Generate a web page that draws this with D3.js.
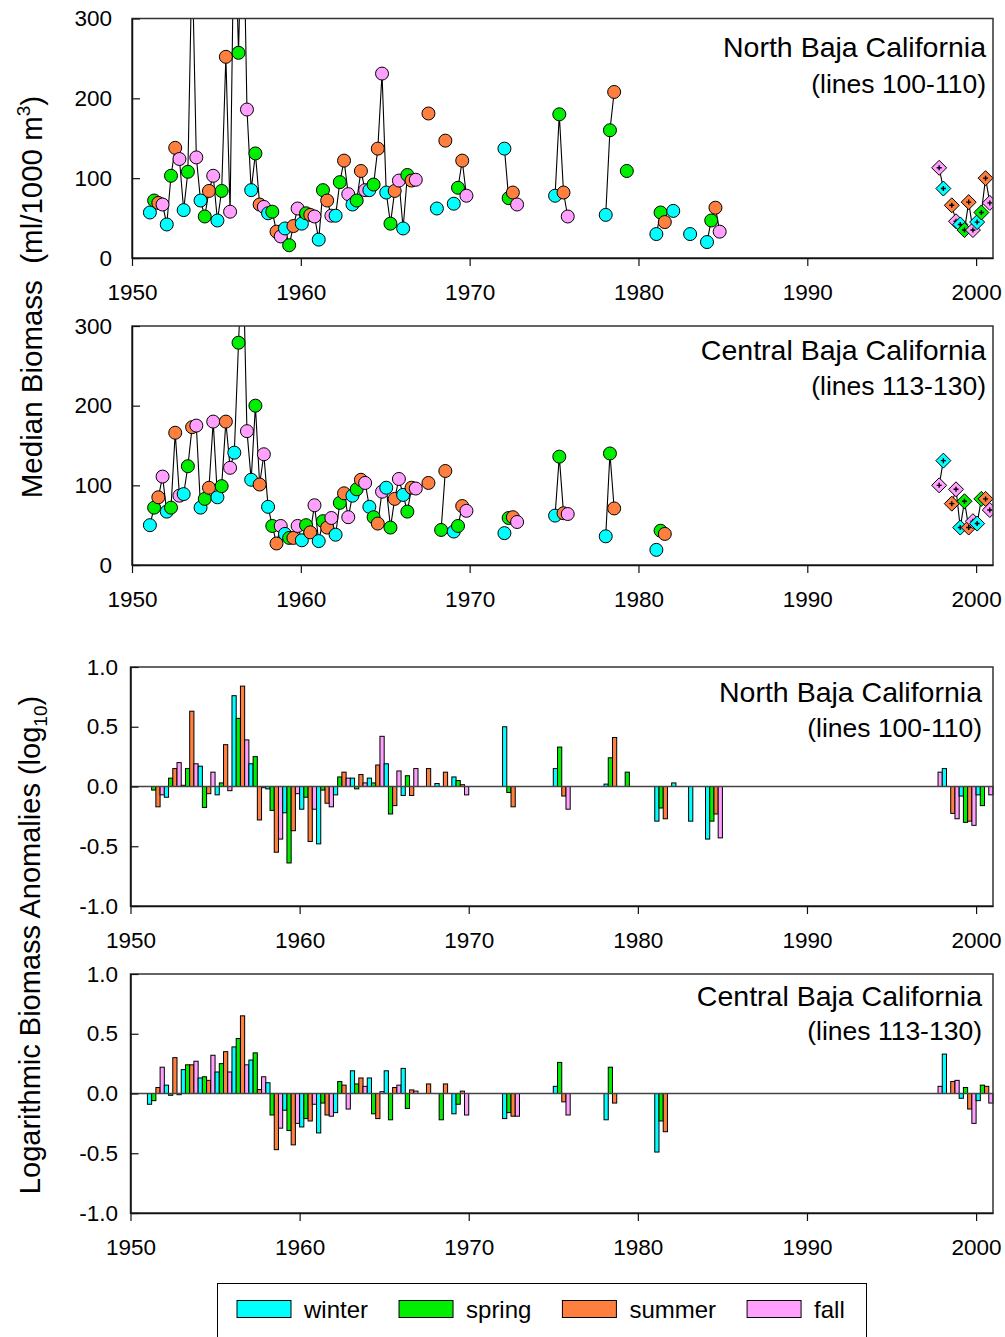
<!DOCTYPE html>
<html><head><meta charset="utf-8">
<script src="https://cdn.jsdelivr.net/npm/d3@7"></script>
<style>
body{margin:0;background:#fff}
svg{display:block}
text{font-family:Arial,"Liberation Sans",sans-serif;fill:#000}
</style>
</head><body>
<svg id="chart" width="1005" height="1337"></svg>
<script>
// ---------------- DATA ----------------
const seasonNames = ["winter", "spring", "summer", "fall"];
const seasonColors = ["#00FFFF", "#00EE00", "#FF7F3F", "#FFA0FF"];
const yearTicks = [1950, 1960, 1970, 1980, 1990, 2000];
const biomassTicks = [0, 100, 200, 300];
const anomalyTicks = [-1.0, -0.5, 0.0, 0.5, 1.0];

// biomass points: [year, seasonIndex, value]; null breaks the connecting line
const northBiomass = [
  [1951,0,57],[1951,1,72],[1951,2,69],[1951,3,67],
  [1952,0,42],[1952,1,103],[1952,2,138],[1952,3,124],
  [1953,0,60],[1953,1,108],[1953,2,380],[1953,3,126],
  [1954,0,72],[1954,1,52],[1954,2,84],[1954,3,103],
  [1955,0,47],[1955,1,84],[1955,2,252],[1955,3,58],
  [1956,0,450],[1956,1,257],[1956,2,480],[1956,3,186],
  [1957,0,85],[1957,1,131],[1957,2,67],[1957,3,64],
  [1958,0,56],[1958,1,58],[1958,2,33],[1958,3,27],
  [1959,0,37],[1959,1,16],[1959,2,40],[1959,3,62],
  [1960,0,43],[1960,1,56],[1960,2,54],[1960,3,52],
  [1961,0,23],[1961,1,85],[1961,2,72],[1961,3,53],
  [1962,0,53],[1962,1,95],[1962,2,122],[1962,3,80],
  [1963,0,67],[1963,1,72],[1963,2,109],[1963,3,85],
  [1964,0,85],[1964,1,92],[1964,2,137],[1964,3,231],
  [1965,0,82],[1965,1,43],[1965,2,84],[1965,3,97],
  [1966,0,37],[1966,1,104],[1966,2,97],[1966,3,98],
  null,[1967,2,181],
  null,[1968,0,62],
  null,[1968,2,147],
  null,[1969,0,68],
  null,[1969,1,88],[1969,2,122],[1969,3,78],
  null,[1972,0,137],[1972,1,75],[1972,2,82],[1972,3,67],
  null,[1975,0,78],[1975,1,180],[1975,2,82],[1975,3,52],
  null,[1978,0,54],[1978,1,160],[1978,2,208],
  null,[1979,1,109],
  null,[1981,0,30],[1981,1,57],[1981,2,45],
  null,[1982,0,59],
  null,[1983,0,30],
  null,[1984,0,20],[1984,1,47],[1984,2,63],[1984,3,33]
];
const northRecent = [
  [1997,3,113],[1998,0,87],
  null,[1998,2,66],[1998,3,46],
  [1999,0,42],[1999,1,35],[1999,2,70],[1999,3,35],
  [2000,0,45],[2000,1,57],[2000,2,100],[2000,3,69]
];
const centralBiomass = [
  [1951,0,50],[1951,1,72],[1951,2,85],[1951,3,111],
  [1952,0,67],[1952,1,72],[1952,2,166],[1952,3,87],
  [1953,0,89],[1953,1,124],[1953,2,173],[1953,3,175],
  [1954,0,72],[1954,1,83],[1954,2,97],[1954,3,180],
  [1955,0,85],[1955,1,99],[1955,2,180],[1955,3,122],
  [1956,0,141],[1956,1,279],[1956,2,400],[1956,3,168],
  [1957,0,107],[1957,1,200],[1957,2,101],[1957,3,139],
  [1958,0,73],[1958,1,49],[1958,2,27],[1958,3,49],
  [1959,0,39],[1959,1,34],[1959,2,34],[1959,3,49],
  [1960,0,31],[1960,1,50],[1960,2,41],[1960,3,75],
  [1961,0,30],[1961,1,55],[1961,2,47],[1961,3,59],
  [1962,0,38],[1962,1,78],[1962,2,90],[1962,3,60],
  [1963,0,87],[1963,1,95],[1963,2,107],[1963,3,103],
  [1964,0,73],[1964,1,60],[1964,2,52],[1964,3,92],
  [1965,0,97],[1965,1,47],[1965,2,83],[1965,3,108],
  [1966,0,88],[1966,1,67],[1966,2,97],[1966,3,96],
  null,[1967,2,103],
  null,[1968,1,44],[1968,2,118],
  null,[1969,0,42],
  null,[1969,1,49],[1969,2,74],[1969,3,68],
  null,[1972,0,40],
  null,[1972,1,59],[1972,2,60],[1972,3,54],
  null,[1975,0,62],[1975,1,136],[1975,2,65],[1975,3,64],
  null,[1978,0,36],[1978,1,140],[1978,2,71],
  null,[1981,0,19],
  null,[1981,1,43],[1981,2,39]
];
const centralRecent = [
  [1997,3,100],[1998,0,131],
  null,[1998,2,77],[1998,3,95],
  [1999,0,47],[1999,1,80],[1999,2,47],[1999,3,55],
  [2000,0,52],[2000,1,83],[2000,2,83],[2000,3,69]
];

// log10 anomalies: [year, seasonIndex, value]
const northAnomaly = [
  [1951,1,-0.03],[1951,2,-0.17],[1951,3,-0.07],
  [1952,0,-0.09],[1952,1,0.07],[1952,2,0.15],[1952,3,0.20],
  [1953,0,0.01],[1953,1,0.15],[1953,2,0.63],[1953,3,0.19],
  [1954,0,0.17],[1954,1,-0.175],[1954,2,-0.06],[1954,3,0.12],
  [1955,0,-0.07],[1955,1,0.03],[1955,2,0.35],[1955,3,-0.035],
  [1956,0,0.76],[1956,1,0.57],[1956,2,0.84],[1956,3,0.39],
  [1957,0,0.19],[1957,1,0.25],[1957,2,-0.28],[1957,3,-0.01],
  [1958,0,-0.02],[1958,1,-0.20],[1958,2,-0.55],[1958,3,-0.44],
  [1959,0,-0.22],[1959,1,-0.64],[1959,2,-0.37],[1959,3,-0.06],
  [1960,0,-0.19],[1960,1,-0.09],[1960,2,-0.46],[1960,3,-0.19],
  [1961,0,-0.48],[1961,1,-0.03],[1961,2,-0.14],[1961,3,-0.17],
  [1962,0,-0.07],[1962,1,0.08],[1962,2,0.12],[1962,3,0.07],
  [1963,0,0.07],[1963,1,-0.02],[1963,2,0.10],[1963,3,0.03],
  [1964,0,0.07],[1964,1,0.03],[1964,2,0.18],[1964,3,0.42],
  [1965,0,0.19],[1965,1,-0.23],[1965,2,-0.16],[1965,3,0.13],
  [1966,0,-0.075],[1966,1,0.09],[1966,2,-0.075],[1966,3,0.15],
  [1967,2,0.15],
  [1968,0,0.025],[1968,2,0.12],
  [1969,0,0.08],[1969,1,0.05],[1969,2,0.015],[1969,3,-0.07],
  [1972,0,0.50],[1972,1,-0.05],[1972,2,-0.17],
  [1975,0,0.15],[1975,1,0.33],[1975,2,-0.08],[1975,3,-0.19],
  [1978,0,0.02],[1978,1,0.24],[1978,2,0.41],
  [1979,1,0.12],
  [1981,0,-0.29],[1981,1,-0.18],[1981,2,-0.27],
  [1982,0,0.03],
  [1983,0,-0.29],
  [1984,0,-0.44],[1984,1,-0.29],[1984,2,-0.23],[1984,3,-0.43],
  [1997,3,0.12],
  [1998,0,0.15],[1998,2,-0.225],[1998,3,-0.27],
  [1999,0,-0.08],[1999,1,-0.30],[1999,2,-0.29],[1999,3,-0.325],
  [2000,0,-0.07],[2000,1,-0.16],[2000,3,-0.07]
];
const centralAnomaly = [
  [1951,0,-0.09],[1951,1,-0.06],[1951,2,0.05],[1951,3,0.22],
  [1952,0,0.07],[1952,1,-0.015],[1952,2,0.30],[1952,3,-0.01],
  [1953,0,0.20],[1953,1,0.24],[1953,2,0.24],[1953,3,0.27],
  [1954,0,0.13],[1954,1,0.14],[1954,2,0.11],[1954,3,0.32],
  [1955,0,0.18],[1955,1,0.25],[1955,2,0.35],[1955,3,0.18],
  [1956,0,0.39],[1956,1,0.46],[1956,2,0.65],[1956,3,0.24],
  [1957,0,0.28],[1957,1,0.34],[1957,2,0.033],[1957,3,0.14],
  [1958,0,0.09],[1958,1,-0.18],[1958,2,-0.47],[1958,3,-0.29],
  [1959,0,-0.14],[1959,1,-0.31],[1959,2,-0.43],[1959,3,-0.25],
  [1960,0,-0.28],[1960,1,-0.21],[1960,2,-0.23],[1960,3,-0.09],
  [1961,0,-0.33],[1961,1,-0.08],[1961,2,-0.18],[1961,3,-0.19],
  [1962,0,-0.16],[1962,1,0.10],[1962,2,0.07],[1962,3,-0.13],
  [1963,0,0.19],[1963,1,0.08],[1963,2,0.13],[1963,3,0.06],
  [1964,0,0.13],[1964,1,-0.17],[1964,2,-0.21],[1964,3,0.015],
  [1965,0,0.19],[1965,1,-0.22],[1965,2,0.05],[1965,3,0.07],
  [1966,0,0.21],[1966,1,-0.125],[1966,2,0.03],[1966,3,0.02],
  [1967,2,0.08],
  [1968,1,-0.22],[1968,2,0.08],
  [1969,0,-0.17],[1969,1,-0.09],[1969,2,0.02],[1969,3,-0.18],
  [1972,0,-0.21],[1972,1,-0.16],[1972,2,-0.19],[1972,3,-0.19],
  [1975,0,0.06],[1975,1,0.26],[1975,2,-0.07],[1975,3,-0.18],
  [1978,0,-0.22],[1978,1,0.22],[1978,2,-0.08],
  [1981,0,-0.49],[1981,1,-0.23],[1981,2,-0.32],
  [1997,3,0.06],
  [1998,0,0.33],[1998,2,0.10],[1998,3,0.11],
  [1999,0,-0.04],[1999,1,0.05],[1999,2,-0.13],[1999,3,-0.25],
  [2000,0,-0.06],[2000,1,0.07],[2000,2,0.06],[2000,3,-0.08]
];

const northTitle = ["North Baja California", "(lines 100-110)"];
const centralTitle = ["Central Baja California", "(lines 113-130)"];

// ---------------- DRAWING ----------------
const svg = d3.select("#chart");
const FONT = "Arial, 'Liberation Sans', sans-serif";
const xDomain = [1950, 2001];
const pointOffset = 0.06;
const hyphenFmt = d => d3.format(".1f")(d).replace("\u2212", "-");

function frameAndAxes(g, x, y, cfg, yTicks, yFmt, yPad) {
  g.append("rect").attr("x", cfg.left).attr("y", cfg.top)
    .attr("width", cfg.right - cfg.left).attr("height", cfg.bottom - cfg.top)
    .attr("fill", "none").attr("stroke", "#333").attr("stroke-width", 1.5);
  const xa = g.append("g").attr("transform", `translate(0,${cfg.bottom})`)
    .call(d3.axisBottom(x).tickValues(yearTicks).tickFormat(d3.format("d"))
      .tickSize(8).tickSizeOuter(0).tickPadding(18.5));
  const ya = g.append("g").attr("transform", `translate(${cfg.left},0)`)
    .call(d3.axisLeft(y).tickValues(yTicks).tickFormat(yFmt)
      .tickSize(-8).tickSizeOuter(0).tickPadding(yPad));
  [xa, ya].forEach(a => {
    a.attr("font-size", null).attr("font-family", null);
    a.selectAll("path.domain").attr("stroke", "#111").attr("stroke-width", 1.5);
    a.selectAll(".tick line").attr("stroke", "#111").attr("stroke-width", 1.2);
    a.selectAll(".tick text").style("font-size", "22.5px").style("font-family", FONT);
  });
}

function titles(g, lines, xr, y1, y2) {
  g.append("text").attr("x", xr).attr("y", y1).attr("text-anchor", "end")
    .style("font-size", "28.5px").text(lines[0]);
  g.append("text").attr("x", xr).attr("y", y2).attr("text-anchor", "end")
    .style("font-size", "26.5px").text(lines[1]);
}

function biomassPanel(id, cfg, hist, recent, ttl) {
  const x = d3.scaleLinear().domain(xDomain).range([cfg.left, cfg.right]);
  const y = d3.scaleLinear().domain([0, 300]).range([cfg.bottom, cfg.top]);
  const g = svg.append("g");
  g.append("clipPath").attr("id", id).append("rect")
    .attr("x", cfg.left).attr("y", cfg.top)
    .attr("width", cfg.right - cfg.left).attr("height", cfg.bottom - cfg.top);
  const px = d => x(d[0] + pointOffset + 0.25 * d[1]);
  const line = d3.line().defined(d => d !== null).x(px).y(d => y(d[2]));
  const plot = g.append("g").attr("clip-path", `url(#${id})`);
  plot.append("path").attr("d", line(hist)).attr("fill", "none").attr("stroke", "#000").attr("stroke-width", 1.1);
  plot.append("path").attr("d", line(recent)).attr("fill", "none").attr("stroke", "#000").attr("stroke-width", 1.1);
  plot.selectAll("circle.pt").data(hist.filter(d => d !== null && d[2] <= 300)).join("circle")
    .attr("class", "pt").attr("cx", px).attr("cy", d => y(d[2])).attr("r", 6.5)
    .attr("fill", d => seasonColors[d[1]]).attr("stroke", "#000").attr("stroke-width", 1);
  const dg = plot.selectAll("g.dm").data(recent.filter(d => d !== null)).join("g")
    .attr("class", "dm").attr("transform", d => `translate(${px(d)},${y(d[2])})`);
  dg.append("path").attr("d", "M0,-7.5L7.5,0L0,7.5L-7.5,0Z")
    .attr("fill", d => seasonColors[d[1]]).attr("stroke", "#000").attr("stroke-width", 1);
  dg.append("path").attr("d", "M-2.5,0H2.5M0,-2.5V2.5").attr("stroke", "#000").attr("stroke-width", 1.4);
  frameAndAxes(g, x, y, cfg, biomassTicks, d3.format("d"), 20);
  titles(g, ttl, cfg.right - 7, cfg.top + cfg.t1, cfg.top + cfg.t2);
}

function anomalyPanel(cfg, data, ttl) {
  const x = d3.scaleLinear().domain(xDomain).range([cfg.left, cfg.right]);
  const y = d3.scaleLinear().domain([-1, 1]).range([cfg.bottom, cfg.top]);
  const g = svg.append("g");
  g.selectAll("rect.bar").data(data).join("rect").attr("class", "bar")
    .attr("x", d => x(d[0] + 0.25 * d[1]))
    .attr("width", d => x(d[0] + 0.25 * (d[1] + 1)) - x(d[0] + 0.25 * d[1]))
    .attr("y", d => Math.min(y(d[2]), y(0)))
    .attr("height", d => Math.abs(y(d[2]) - y(0)))
    .attr("fill", d => seasonColors[d[1]]).attr("stroke", "#000").attr("stroke-width", 1);
  g.append("line").attr("x1", cfg.left).attr("x2", cfg.right)
    .attr("y1", y(0)).attr("y2", y(0)).attr("stroke", "#444").attr("stroke-width", 1.5);
  frameAndAxes(g, x, y, cfg, anomalyTicks, hyphenFmt, 12.5);
  titles(g, ttl, cfg.right - 11, cfg.top + cfg.t1, cfg.top + cfg.t2);
}

biomassPanel("clipN", {left: 132, right: 993, top: 18.5, bottom: 258, t1: 38.5, t2: 74.5}, northBiomass, northRecent, northTitle);
biomassPanel("clipC", {left: 132, right: 993, top: 326, bottom: 565, t1: 34, t2: 69}, centralBiomass, centralRecent, centralTitle);
anomalyPanel({left: 130.5, right: 993, top: 667, bottom: 906, t1: 35, t2: 70}, northAnomaly, northTitle);
anomalyPanel({left: 130.5, right: 993, top: 974, bottom: 1213, t1: 32, t2: 66}, centralAnomaly, centralTitle);

// y-axis titles
const yl1 = svg.append("text").attr("transform", "translate(42,297) rotate(-90)")
  .attr("text-anchor", "middle").style("font-size", "29.5px").style("white-space", "pre");
yl1.append("tspan").text("Median Biomass  (ml/1000 m");
yl1.append("tspan").attr("dy", -12).style("font-size", "19px").text("3");
yl1.append("tspan").attr("dy", 12).text(")");

const yl2 = svg.append("text").attr("transform", "translate(40,945) rotate(-90)")
  .attr("text-anchor", "middle").style("font-size", "29px");
yl2.append("tspan").text("Logarithmic Biomass Anomalies (log");
yl2.append("tspan").attr("dy", 7).style("font-size", "19px").text("10");
yl2.append("tspan").attr("dy", -7).text(")");

// legend
const lg = svg.append("g");
lg.append("rect").attr("x", 217.5).attr("y", 1283.5).attr("width", 649).attr("height", 60)
  .attr("fill", "#fff").attr("stroke", "#000").attr("stroke-width", 1);
let lx = 237;
seasonNames.forEach((name, i) => {
  lg.append("rect").attr("x", lx).attr("y", 1300.5).attr("width", 54).attr("height", 17)
    .attr("fill", seasonColors[i]).attr("stroke", "#000").attr("stroke-width", 1);
  const t = lg.append("text").attr("x", lx + 67).attr("y", 1318).style("font-size", "24px").text(name);
  lx = lx + 67 + t.node().getComputedTextLength() + 31;
});
</script>
</body></html>
